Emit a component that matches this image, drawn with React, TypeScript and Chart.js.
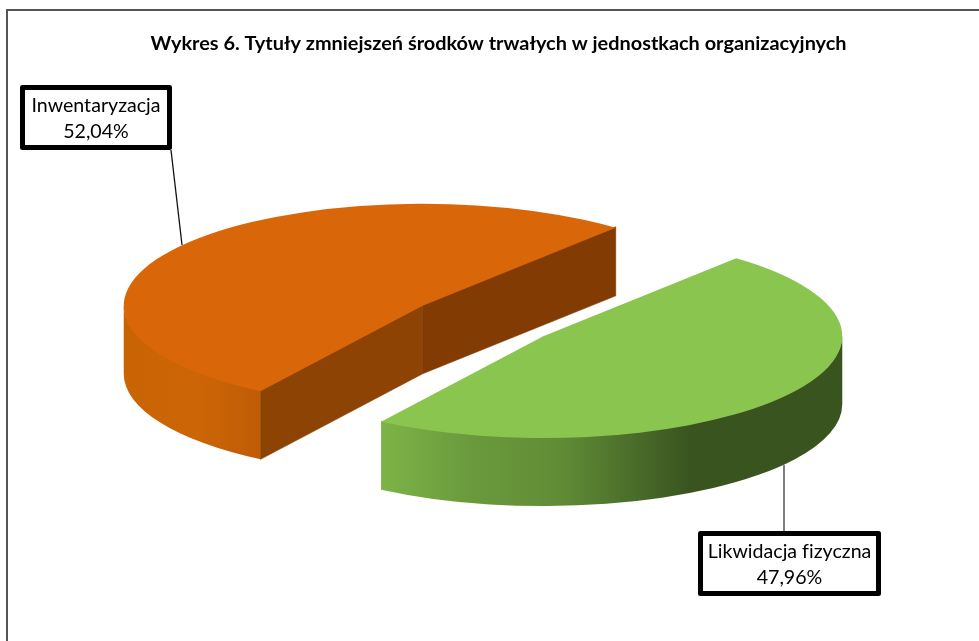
import React, { useEffect, useRef } from "react";
import { Chart, registerables } from "chart.js";

Chart.register(...registerables);

const categories = ["Likwidacja fizyczna", "Inwentaryzacja"];
const shares = [47.96, 52.04];
const percentLabels = ["47,96%", "52,04%"];
const titleText = "Wykres 6. Tytuły zmniejszeń środków trwałych w jednostkach organizacyjnych";

const TILT = 0.341;
const DEPTH = 68;
const TITLE_SHIFT = 15.5;
const FONT = "Lato, Carlito, sans-serif";

const topColors = ["#8AC550", "#D96608"];
const wallStops: [number, string][][] = [
  [[382, "#7DB347"], [470, "#6B9A3D"], [560, "#618C36"], [640, "#486A29"], [690, "#3A5420"], [842, "#3A5420"]],
  [[124, "#C96405"], [200, "#CC6506"], [261, "#BF5C06"]],
];
const faceColors = [["#3A5420", "#3A5420"], ["#8C4303", "#823B02"]];

const boxes = [
  { x: 700.5, y: 533.5, w: 178, h: 60, anchor: [784, 465], foot: [784, 532], lead: "#555555", leadW: 1.5, cy: [552, 578] },
  { x: 22.5, y: 87.5, w: 147, h: 60, anchor: [182, 245], foot: [171, 150], lead: "#111111", leadW: 1.3, cy: [106, 132] },
];

const pie3d = {
  id: "pie3d",
  afterLayout(chart: any) {
    const t = chart.titleBlock;
    if (t) {
      t.left += TITLE_SHIFT;
      t.right += TITLE_SHIFT;
    }
  },
  beforeDatasetDraw(chart: any) {
    const { ctx } = chart;
    const arcs = chart.getDatasetMeta(0).data;
    // frame: the reference crops its right and bottom edges
    ctx.save();
    ctx.strokeStyle = "#555555";
    ctx.lineWidth = 2;
    ctx.strokeRect(7, 10, 990, 660);
    ctx.restore();

    // leader lines are painted under the pie
    boxes.forEach((b) => {
      ctx.save();
      ctx.strokeStyle = b.lead;
      ctx.lineWidth = b.leadW;
      ctx.beginPath();
      ctx.moveTo(b.anchor[0], b.anchor[1]);
      ctx.lineTo(b.foot[0], b.foot[1]);
      ctx.stroke();
      ctx.restore();
    });

    const order = arcs.map((_: any, i: number) => i).sort((a: number, b: number) => b - a);
    order.forEach((i: number) => {
      const arc = arcs[i];
      const p = arc.getProps(["x", "y", "startAngle", "endAngle", "outerRadius"], true);
      const off = arc.options.offset || 0;
      const mid = (p.startAngle + p.endAngle) / 2;
      const cx = p.x + Math.cos(mid) * off;
      const cy = p.y + Math.sin(mid) * off * TILT;
      const r = p.outerRadius;
      const s = p.startAngle;
      const e = p.endAngle;
      const pt = (a: number) => [cx + Math.cos(a) * r, cy + Math.sin(a) * r * TILT];

      // outer wall: only the part facing the viewer
      const TAU = Math.PI * 2;
      const ranges: [number, number][] = [];
      for (let k = -1; k <= 2; k++) {
        const lo = Math.max(s, k * TAU);
        const hi = Math.min(e, k * TAU + Math.PI);
        if (hi > lo) ranges.push([lo, hi]);
      }
      ranges.forEach(([lo, hi]) => {
        const x0 = wallStops[i][0][0];
        const x1 = wallStops[i][wallStops[i].length - 1][0];
        const g = ctx.createLinearGradient(x0, 0, x1, 0);
        wallStops[i].forEach(([x, c]) => g.addColorStop((x - x0) / (x1 - x0), c));
        ctx.fillStyle = g;
        ctx.beginPath();
        ctx.ellipse(cx, cy - 1, r, r * TILT, 0, lo, hi, false);
        ctx.ellipse(cx, cy + DEPTH, r, r * TILT, 0, hi, lo, true);
        ctx.closePath();
        ctx.fill();
      });

      // radial cut faces
      const faces: [number, number, string][] = [
        [s, s - Math.PI / 2, faceColors[i][0]],
        [e, e + Math.PI / 2, faceColors[i][1]],
      ];
      faces.forEach(([a, n, col]) => {
        if (Math.sin(n) <= 0) return;
        const q = pt(a);
        ctx.fillStyle = col;
        ctx.strokeStyle = col;
        ctx.lineWidth = 0.6;
        ctx.beginPath();
        ctx.moveTo(cx, cy - 1);
        ctx.lineTo(q[0], q[1] - 1);
        ctx.lineTo(q[0], q[1] + DEPTH);
        ctx.lineTo(cx, cy + DEPTH);
        ctx.closePath();
        ctx.fill();
        ctx.stroke();
      });

      // top surface
      ctx.fillStyle = arc.options.backgroundColor;
      ctx.beginPath();
      ctx.moveTo(cx, cy);
      ctx.ellipse(cx, cy, r, r * TILT, 0, s, e, false);
      ctx.closePath();
      ctx.fill();
    });

    // callout boxes
    boxes.forEach((b, i) => {
      ctx.save();
      ctx.fillStyle = "#FFFFFF";
      ctx.strokeStyle = "#000000";
      ctx.lineWidth = 5;
      ctx.lineJoin = "round";
      ctx.beginPath();
      ctx.rect(b.x, b.y, b.w, b.h);
      ctx.fill();
      ctx.stroke();
      ctx.fillStyle = "#000000";
      ctx.font = `19.6px ${FONT}`;
      ctx.letterSpacing = "0.01px";
      ctx.textAlign = "center";
      ctx.textBaseline = "middle";
      ctx.fillText(categories[i], b.x + b.w / 2, b.cy[0]);
      ctx.fillText(percentLabels[i], b.x + b.w / 2, b.cy[1]);
      ctx.restore();
    });
    return false;
  },
};

export default function App() {
  const ref = useRef<HTMLCanvasElement>(null);
  useEffect(() => {
    const chart = new Chart(ref.current!, {
      type: "pie",
      data: {
        labels: categories,
        datasets: [
          {
            data: shares,
            backgroundColor: topColors,
            borderWidth: 0,
            offset: 75,
          },
        ],
      },
      options: {
        responsive: false,
        animation: false,
        rotation: 40.2,
        radius: 299,
        layout: { padding: { right: 13, bottom: 62 } },
        plugins: {
          legend: { display: false },
          tooltip: { enabled: false },
          title: {
            display: true,
            text: titleText,
            color: "#000000",
            font: { family: FONT, size: 19.9, weight: "bold" },
            padding: { top: 32, bottom: 7 },
          },
        },
      },
      plugins: [pie3d],
    } as any);
    return () => chart.destroy();
  }, []);
  return (
    <canvas
      ref={ref}
      width={979}
      height={641}
      style={{ position: "absolute", left: 0, top: 0, width: 979, height: 641, background: "#FFFFFF" }}
    />
  );
}
